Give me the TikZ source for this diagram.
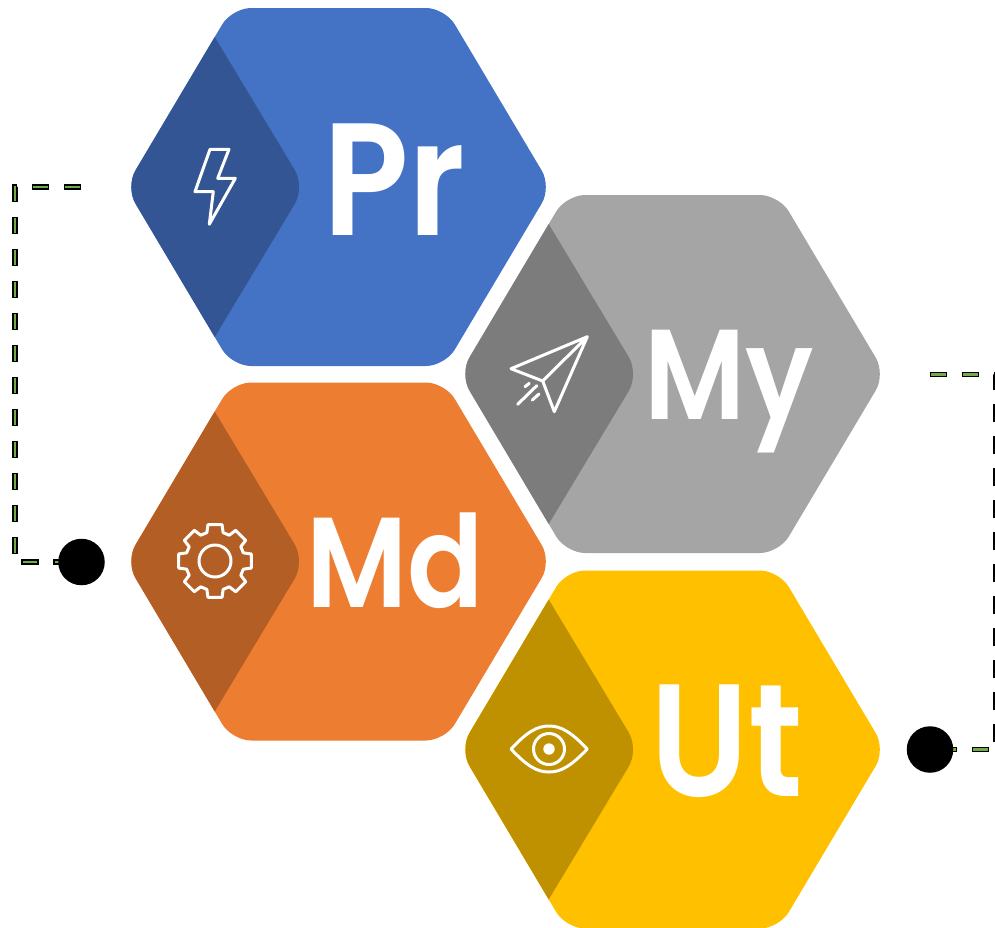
\documentclass[tikz,border=0pt]{standalone}
\usepackage{fontspec}
\setmainfont{Poppins}[UprightFont=* SemiBold,FakeStretch=0.88]
\pgfdeclarelayer{bg}
\pgfsetlayers{bg,main}
\definecolor{cblue}{HTML}{4472C4}\definecolor{dblue}{HTML}{335593}
\definecolor{corange}{HTML}{ED7D31}\definecolor{dorange}{HTML}{B25E25}
\definecolor{cgrey}{HTML}{A5A5A5}\definecolor{dgrey}{HTML}{7C7C7C}
\definecolor{cgold}{HTML}{FFC000}\definecolor{dgold}{HTML}{BF9000}
\definecolor{cgreen}{HTML}{70AD47}
\tikzset{
  icon/.style={draw=white,line width=3pt,line join=round,line cap=round},
  dotnode/.style={circle,fill=black,minimum size=46.5pt,inner sep=0pt},
  connout/.style={draw=black,line width=5.6pt,dash pattern=on 17.4pt off 14.6pt},
  connin/.style={draw=cgreen,line width=2.4pt,dash pattern=on 14.6pt off 17.4pt,dash phase=-1.4pt},
  biglabel/.style={text=white,anchor=base west,inner sep=0pt,font=\fontsize{160}{160}\selectfont},
  midlabel/.style={text=white,anchor=base west,inner sep=0pt,font=\fontsize{128}{128}\selectfont},
}
% #1 centre x, #2 centre y, #3 light, #4 dark
\newcommand{\hexagonshape}[4]{%
  \fill[#3,rounded corners=19pt]
    (#1-213,#2) -- (#1-106.5,#2-179) -- (#1+106.5,#2-179) --
    (#1+213,#2) -- (#1+106.5,#2+179) -- (#1-106.5,#2+179) -- cycle;
  \fill[#4]
    (#1-123.8,#2-150)
    -- (#1-43.8,#2-17.1) .. controls (#1-38.1,#2-7.7) and (#1-38.1,#2+7.7) .. (#1-43.8,#2+17.1)
    -- (#1-123.8,#2+150)
    -- (#1-202.7,#2+17.1) .. controls (#1-208.4,#2+7.7) and (#1-208.4,#2-7.7) .. (#1-202.7,#2-17.1)
    -- cycle;
}
\begin{document}
\begin{tikzpicture}[x=1pt,y=-1pt]
\useasboundingbox (0,0) rectangle (995,927);
\hexagonshape{338.5}{187}{cblue}{dblue}
\hexagonshape{672.5}{374}{cgrey}{dgrey}
\hexagonshape{338.5}{561.5}{corange}{dorange}
\hexagonshape{672.5}{749.5}{cgold}{dgold}
\node[biglabel] (pr) at (323,235) {Pr};
\node[midlabel] (my) at (644,419) {My};
\node[midlabel] (md) at (306,607) {Md};
\node[biglabel] (ut) at (650,796) {Ut};
% icons
\draw[icon] (210,149.3) -- (229,149.3) -- (217.7,178.3) -- (235.3,178.3) -- (209.3,224.3) -- (213.3,191.7) -- (195,191.7) -- cycle;
\draw[icon] (587.3,336.7) -- (511,368.7) -- (542.7,381) -- cycle (542.7,381) -- (554.3,411.7) -- (587.3,336.7);
\draw[icon] (517.7,404.3) -- (536.7,385.7) (525,386.7) -- (529.3,383.3) (532.3,400) -- (539,394);
\begin{scope}[shift={(215,561)}]
\draw[icon] (-16:29.5) \foreach \a in {0,45,...,315}{ -- (\a-16:29.5) -- (\a-11:37) -- (\a+11:37) -- (\a+16:29.5)} -- cycle;
\draw[icon] (0,0) circle[radius=16];
\end{scope}
\draw[icon] (511,749) .. controls (527,732) and (537,726) .. (549,726) .. controls (561,726) and (571,732) .. (587.3,749) .. controls (571,766) and (561,772) .. (549,772) .. controls (537,772) and (527,766) .. (511,749) -- cycle;
\draw[icon] (549,749) circle[radius=15.5];
\fill[white] (549,749) circle[radius=5.7];
% connectors
\node[dotnode] (dotl) at (81.5,562) {};
\node[dotnode] (dotr) at (930,749.5) {};
\coordinate (ls) at (81,187);
\coordinate (lc1) at (14.7,187);
\coordinate (lc2) at (14.7,562);
\coordinate (rs) at (930,374.5);
\coordinate (rc1) at (996.1,374.5);
\coordinate (rc2) at (996.1,749.5);
\begin{pgfonlayer}{bg}
\draw[connout] (ls) -- (lc1) -- (lc2) -- (dotl.center);
\draw[connin] (ls) -- (lc1) -- (lc2) -- (dotl.center);
\draw[connout] (rs) -- (rc1) -- (rc2) -- (dotr.center);
\draw[connin] (rs) -- (rc1) -- (rc2) -- (dotr.center);
\end{pgfonlayer}
\end{tikzpicture}
\end{document}
